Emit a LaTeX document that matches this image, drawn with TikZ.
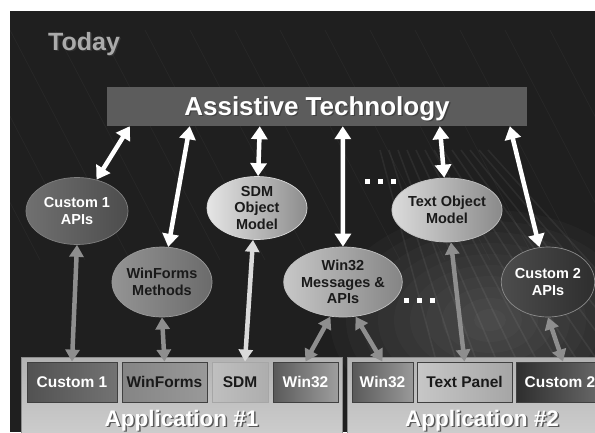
\documentclass[tikz,border=0pt]{standalone}
\usepackage{fontspec}
\setmainfont{Liberation Sans}
\usetikzlibrary{shapes.geometric,arrows.meta}

\definecolor{bgdark}{HTML}{1F1F1F}
\definecolor{barfill}{HTML}{5C5C5C}
\definecolor{linkgray}{HTML}{8E8E8E}
\definecolor{linklight}{HTML}{DADADA}
\definecolor{inkdark}{HTML}{1A1A1A}
\definecolor{titlegray}{HTML}{ABABAB}

% white (or grey) lettering with a small dark drop shadow
\newcommand{\dropshadowtext}[3]{\leavevmode\rlap{\hspace{1.4pt}\raisebox{-1.4pt}{\textcolor{#1}{#3}}}\textcolor{#2}{#3}}

\tikzset{
  bubble/.style={ellipse, inner sep=0pt, align=center, line width=0.7pt,
    font=\fontsize{14.5}{16.5}\selectfont\bfseries},
  blend/.style 2 args={left color=#1, right color=#2},
  blend3/.style n args={3}{left color=#1, middle color=#2, right color=#3},
  compbox/.style={draw=black!75, line width=0.8pt, minimum height=40pt, inner sep=0pt,
    font=\fontsize{15.5}{18}\selectfont\bfseries},
  panel/.style={draw=black!45, line width=0.8pt, top color=black!30, bottom color=black!18,
    minimum height=90pt, anchor=north west, inner sep=0pt},
  wlink/.style={draw=white, line width=4.5pt,
    arrows={Triangle[width=16pt,length=13pt]-Triangle[width=16pt,length=13pt]}},
  glink/.style={draw=#1, line width=4.5pt,
    arrows={Triangle[width=14pt,length=12pt]-Triangle[width=14pt,length=12pt]}},
  glink/.default=linkgray,
}

\begin{document}
\begin{tikzpicture}[x=1pt,y=-1pt]
  \clip (0,0) rectangle (595,432);
  \fill[white] (0,0) rectangle (595,432);
  \fill[bgdark] (10,11) rectangle (595,432);

  % soft glow and light streaks of the backdrop
  \foreach \s in {1,...,10}
    \fill[white, opacity=0.022] (490,320) ellipse ({16*\s} and {11*\s});
  \foreach \i in {0,...,14}
    \draw[white, opacity=0.035, line width=0.8pt] ({-80+45*\i},30) -- ({40+45*\i},260);
  \foreach \i in {0,...,12}
    \draw[white, opacity=0.06, line width=1.6pt] ({380+9*\i},150) -- ({455+24*\i},432);

  % title
  \node[anchor=base west, inner sep=0pt, font=\fontsize{25}{30}\selectfont\bfseries]
    (today) at (48,50) {\dropshadowtext{black!80}{titlegray}{Today}};

  % assistive technology bar
  \node[fill=barfill, minimum width=420pt, minimum height=39pt, inner sep=0pt]
    (at) at (317,106.5) {};
  \node[anchor=base, inner sep=0pt, font=\fontsize{26}{30}\selectfont\bfseries]
    (attitle) at (317,115) {\dropshadowtext{black!75}{white}{Assistive Technology}};

  % API bubbles
  \node[bubble, minimum width=102pt, minimum height=67pt, blend={black!56}{black!70},
    draw=black!50, text=white] (c1api) at (77,211) {Custom 1\\APIs};
  \node[bubble, minimum width=100pt, minimum height=70pt, blend={black!42}{black!58},
    draw=black!40, text=inkdark] (wfm) at (162,282) {WinForms\\Methods};
  \node[bubble, minimum width=100pt, minimum height=63pt, blend={black!10}{black!45},
    draw=black!15, text=inkdark] (sdmom) at (257,208) {SDM\\Object\\Model};
  \node[bubble, minimum width=100pt, minimum height=70pt, blend={black!22}{black!48},
    draw=black!25, text=inkdark] (w32m) at (343,282) {Win32\\Messages \&\\APIs};
  \node[bubble, minimum width=100pt, minimum height=64pt, blend={black!14}{black!46},
    draw=black!25, text=inkdark] (tom) at (447,210) {Text Object\\Model};
  \node[bubble, minimum width=90pt, minimum height=70pt, blend={black!70}{black!82},
    draw=black!45, text=white] (c2api) at (548,282) {Custom 2\\APIs};

  % ellipsis marks
  \foreach \x [count=\k] in {367,380,393}
    \node[fill=white, minimum size=5pt, inner sep=0pt] (dotA\k) at (\x,181) {};
  \foreach \x [count=\k] in {406,419,432}
    \node[fill=white, minimum size=5pt, inner sep=0pt] (dotB\k) at (\x,300) {};

  % application panels
  \node[panel, minimum width=321pt] (app1) at (21,357) {};
  \node[panel, minimum width=270pt] (app2) at (347,357) {};
  \node[anchor=base, inner sep=0pt, font=\fontsize{22.5}{27}\selectfont\bfseries]
    (app1title) at (181.5,426.5) {\dropshadowtext{black!65}{white}{Application \#1}};
  \node[anchor=base, inner sep=0pt, font=\fontsize{22.5}{27}\selectfont\bfseries]
    (app2title) at (482,426.5) {\dropshadowtext{black!65}{white}{Application \#2}};

  % component boxes
  \node[compbox, minimum width=90pt, blend={black!68}{black!55}, text=white]
    (bc1) at (72,382) {Custom 1};
  \node[compbox, minimum width=85pt, blend3={black!48}{black!22}{black!40}, text=inkdark]
    (bwf) at (164.5,382) {WinForms};
  \node[compbox, minimum width=56pt, blend3={black!25}{black!8}{black!32}, draw=black!35, text=inkdark]
    (bsdm) at (240,382) {SDM};
  \node[compbox, minimum width=65pt, blend={black!65}{black!38}, text=white]
    (bw32a) at (305.5,382) {Win32};
  \node[compbox, minimum width=61pt, blend={black!65}{black!40}, text=white]
    (bw32b) at (382.5,382) {Win32};
  \node[compbox, minimum width=95pt, blend3={black!22}{black!6}{black!35}, text=inkdark]
    (btp) at (464.5,382) {Text Panel};
  \node[compbox, minimum width=88pt, blend={black!82}{black!58}, text=white]
    (bc2) at (560,382) {Custom 2};

  % links between the bar and the API bubbles
  \draw[wlink] ([xshift=23pt]at.south west) -- (c1api);
  \draw[wlink] ([xshift=83pt]at.south west) -- (wfm);
  \draw[wlink] ([xshift=153pt]at.south west) -- (sdmom);
  \draw[wlink] ([xshift=236pt]at.south west) -- (w32m);
  \draw[wlink] ([xshift=333pt]at.south west) -- (tom);
  \draw[wlink] ([xshift=403pt]at.south west) -- (c2api);

  % links between the API bubbles and the components
  \draw[glink] (c1api.south) -- (bc1.north);
  \draw[glink] (wfm.south) -- (bwf.north);
  \draw[glink=linklight] ([xshift=-4pt]sdmom.south) -- ([xshift=5pt]bsdm.north);
  \draw[glink] (w32m.250) -- (bw32a.north);
  \draw[glink] (w32m.290) -- (bw32b.north);
  \draw[glink] ([xshift=4pt]tom.south) -- (btp.north);
  \draw[glink] (c2api.south) -- ([xshift=3pt]bc2.north);
\end{tikzpicture}
\end{document}
